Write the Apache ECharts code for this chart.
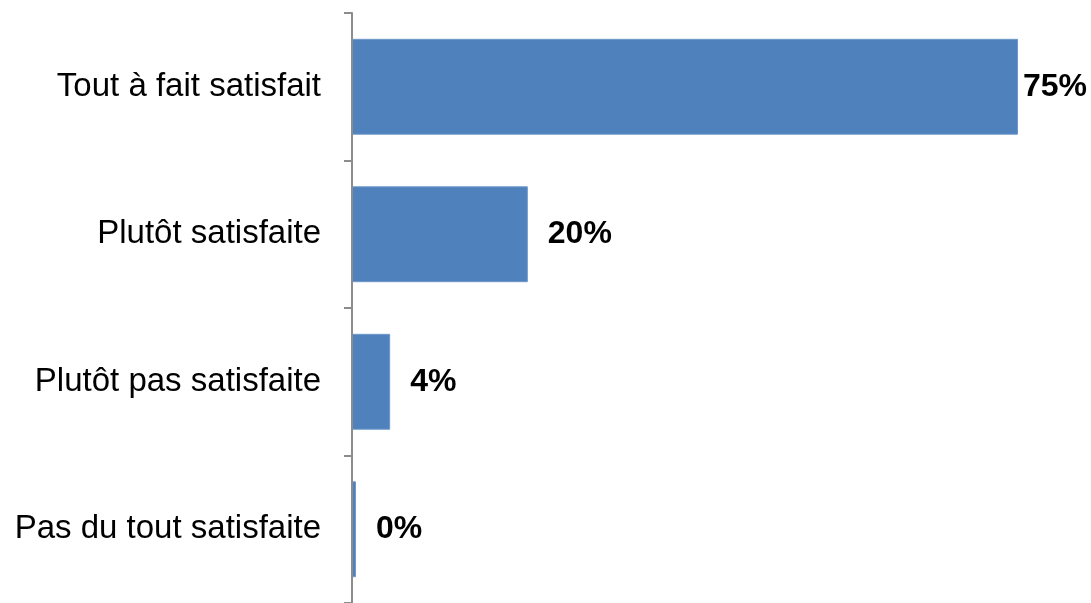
<!DOCTYPE html>
<html>
<head>
<meta charset="utf-8">
<script src="https://cdn.jsdelivr.net/npm/echarts@6/dist/echarts.min.js"></script>
<style>
html,body{margin:0;padding:0;background:#fff;}
#chart{width:1091px;height:603px;}
</style>
</head>
<body>
<div id="chart"></div>
<script>
const categories = ["Tout à fait satisfait", "Plutôt satisfaite", "Plutôt pas satisfaite", "Pas du tout satisfaite"];
const values = [75, 19.8, 4.3, 0.45];
const labelDistances = [5, 20, 20, 20];

const chart = echarts.init(document.getElementById('chart'));
chart.setOption({
  animation: false,
  grid: { left: 352, top: 13, width: 710.4, height: 592 },
  xAxis: {
    type: 'value', min: 0, max: 80, show: false,
    splitLine: { show: false }
  },
  yAxis: {
    type: 'category', inverse: true, data: categories,
    axisLine: { show: true, lineStyle: { color: '#8c8c8c', width: 2 } },
    axisTick: { show: true, length: 8, lineStyle: { color: '#8c8c8c', width: 2 } },
    axisLabel: { margin: 31, fontFamily: 'Liberation Sans, Arial, sans-serif', fontSize: 33, color: '#000', padding: [7, 0, 0, 0] },
    z: 5
  },
  series: [{
    type: 'bar',
    barCategoryGap: '35%',
    data: values.map((v, i) => ({
      value: v,
      label: { distance: labelDistances[i] }
    })),
    itemStyle: { color: '#4F81BD', borderColor: '#6f97c9', borderWidth: 1 },
    label: {
      show: true, position: 'right',
      formatter: p => Math.round(p.value) + '%',
      fontFamily: 'Liberation Sans, Arial, sans-serif', fontSize: 32, fontWeight: 'bold', color: '#000',
      padding: [7, 0, 0, 0]
    }
  }]
});
</script>
</body>
</html>
